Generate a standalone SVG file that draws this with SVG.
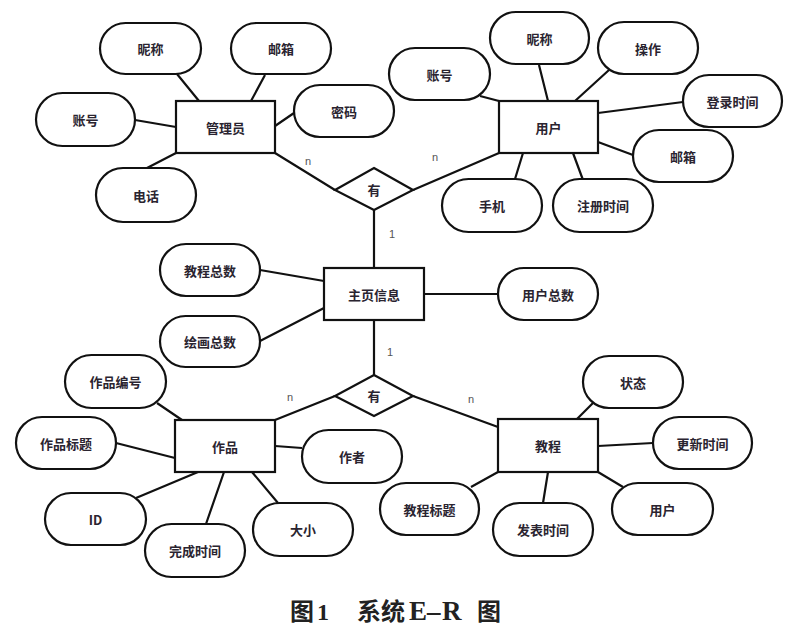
<svg xmlns="http://www.w3.org/2000/svg" width="800" height="630" viewBox="0 0 800 630">
<style>
.a{fill:#fff;stroke:#111;stroke-width:2.2}
.t{font-family:"Noto Sans CJK SC","Liberation Sans",sans-serif;font-size:13px;font-weight:bold;fill:#2a2430;text-anchor:middle;dominant-baseline:central}
.c{font-family:"Liberation Sans",sans-serif;font-size:11px;fill:#555;text-anchor:middle;dominant-baseline:central}
.l{stroke:#111;stroke-width:2.2;fill:none}
.cap{font-family:"Liberation Serif","Noto Sans CJK SC",serif;font-size:24px;font-weight:bold;fill:#222}
.lat{font-size:27px}
</style>
<rect width="800" height="630" fill="#fff"/>
<g id="connectors">
<path class="l" d="M177,74L199,101 M265,75L251,101 M135,120L176,127 M294,113L275,126 M147,168L176,153 M275,153L335,190"/>
<path class="l" d="M480,96L499,101 M539,65L548,101 M609,70L575,101 M683,102L598,113 M633,155L598,142 M515,179L523,153 M583,180L573,153 M413,190L499,153"/>
<path class="l" d="M374,210L374,268 M260,270L324,281 M260,341L324,308 M424,294L498,294 M374,320L374,375"/>
<path class="l" d="M157,403L182,420 M116,443L175,458 M335,396L275,420 M275,446L302,448 M136,498L198,472 M206,524L224,472 M278,503L252,472"/>
<path class="l" d="M413,396L498,427 M593,403L577,419 M653,443L598,446 M471,487L498,472 M543,503L548,472 M623,487L598,472"/>
</g>
<g id="labels">
<text class="c" x="308" y="161">n</text>
<text class="c" x="435" y="157">n</text>
<text class="c" x="392" y="234">1</text>
<text class="c" x="390" y="352">1</text>
<text class="c" x="290" y="397">n</text>
<text class="c" x="471" y="399">n</text>
</g>
<g id="admin"><rect class="a" x="176" y="101" width="99" height="52"/><text class="t" x="225.5" y="127">管理员</text></g>
<g id="admin-nick"><rect class="a" x="100" y="23" width="101" height="51" rx="25.5"/><text class="t" x="150.5" y="48.5">昵称</text></g>
<g id="admin-mail"><rect class="a" x="231" y="23" width="100" height="51" rx="25.5"/><text class="t" x="281" y="48.5">邮箱</text></g>
<g id="admin-acc"><rect class="a" x="36" y="93" width="99" height="53" rx="26.5"/><text class="t" x="85.5" y="119.5">账号</text></g>
<g id="admin-pwd"><rect class="a" x="294" y="85" width="100" height="52" rx="26"/><text class="t" x="344" y="111">密码</text></g>
<g id="admin-tel"><rect class="a" x="96" y="168" width="100" height="54" rx="27"/><text class="t" x="146" y="195">电话</text></g>
<g id="rel-top"><polygon class="a" points="374,168 413,190 374,210 335,190"/><text class="t" x="374" y="189">有</text></g>
<g id="user"><rect class="a" x="499" y="101" width="99" height="52"/><text class="t" x="548.5" y="127">用户</text></g>
<g id="user-nick"><rect class="a" x="490" y="12" width="99" height="52" rx="26"/><text class="t" x="539.5" y="38">昵称</text></g>
<g id="user-op"><rect class="a" x="598" y="22" width="100" height="52" rx="26"/><text class="t" x="648" y="48">操作</text></g>
<g id="user-acc"><rect class="a" x="389" y="48" width="101" height="52" rx="26"/><text class="t" x="439.5" y="74">账号</text></g>
<g id="user-login"><rect class="a" x="683" y="75" width="99" height="52" rx="26"/><text class="t" x="732.5" y="101">登录时间</text></g>
<g id="user-mail"><rect class="a" x="633" y="130" width="100" height="52" rx="26"/><text class="t" x="683" y="156">邮箱</text></g>
<g id="user-phone"><rect class="a" x="442" y="179" width="100" height="53" rx="26.5"/><text class="t" x="492" y="205.5">手机</text></g>
<g id="user-reg"><rect class="a" x="553" y="179" width="100" height="53" rx="26.5"/><text class="t" x="603" y="205.5">注册时间</text></g>
<g id="home"><rect class="a" x="324" y="268" width="100" height="52"/><text class="t" x="374" y="294">主页信息</text></g>
<g id="home-tut"><rect class="a" x="160" y="244" width="100" height="52" rx="26"/><text class="t" x="210" y="270">教程总数</text></g>
<g id="home-draw"><rect class="a" x="160" y="316" width="100" height="51" rx="25.5"/><text class="t" x="210" y="341.5">绘画总数</text></g>
<g id="home-user"><rect class="a" x="498" y="268" width="100" height="52" rx="26"/><text class="t" x="548" y="294">用户总数</text></g>
<g id="rel-bottom"><polygon class="a" points="374,375 413,396 374,416 335,396"/><text class="t" x="374" y="395">有</text></g>
<g id="work"><rect class="a" x="175" y="420" width="100" height="52"/><text class="t" x="225" y="446">作品</text></g>
<g id="work-no"><rect class="a" x="65" y="355" width="101" height="53" rx="26.5"/><text class="t" x="115.5" y="381.5">作品编号</text></g>
<g id="work-title"><rect class="a" x="16" y="417" width="100" height="52" rx="26"/><text class="t" x="66" y="443">作品标题</text></g>
<g id="work-author"><rect class="a" x="302" y="430" width="100" height="53" rx="26.5"/><text class="t" x="352" y="456.5">作者</text></g>
<g id="work-id"><rect class="a" x="45" y="493" width="101" height="52" rx="26"/><text class="t" x="95.5" y="519">ID</text></g>
<g id="work-done"><rect class="a" x="145" y="524" width="100" height="53" rx="26.5"/><text class="t" x="195" y="550.5">完成时间</text></g>
<g id="work-size"><rect class="a" x="253" y="503" width="100" height="53" rx="26.5"/><text class="t" x="303" y="529.5">大小</text></g>
<g id="tutorial"><rect class="a" x="498" y="419" width="100" height="53"/><text class="t" x="548" y="445.5">教程</text></g>
<g id="tut-state"><rect class="a" x="583" y="356" width="100" height="52" rx="26"/><text class="t" x="633" y="382">状态</text></g>
<g id="tut-update"><rect class="a" x="653" y="417" width="99" height="52" rx="26"/><text class="t" x="702.5" y="443">更新时间</text></g>
<g id="tut-title"><rect class="a" x="380" y="483" width="99" height="52" rx="26"/><text class="t" x="429.5" y="509">教程标题</text></g>
<g id="tut-pub"><rect class="a" x="493" y="503" width="100" height="53" rx="26.5"/><text class="t" x="543" y="529.5">发表时间</text></g>
<g id="tut-user"><rect class="a" x="612" y="483" width="101" height="52" rx="26"/><text class="t" x="662.5" y="509">用户</text></g>
<g id="caption">
<text class="cap" y="620"><tspan x="290">图</tspan><tspan x="317">1</tspan><tspan x="357">系统</tspan><tspan class="lat" x="409">E</tspan><tspan class="lat" x="427">–</tspan><tspan class="lat" x="442">R</tspan><tspan x="477">图</tspan></text>
</g>
</svg>
